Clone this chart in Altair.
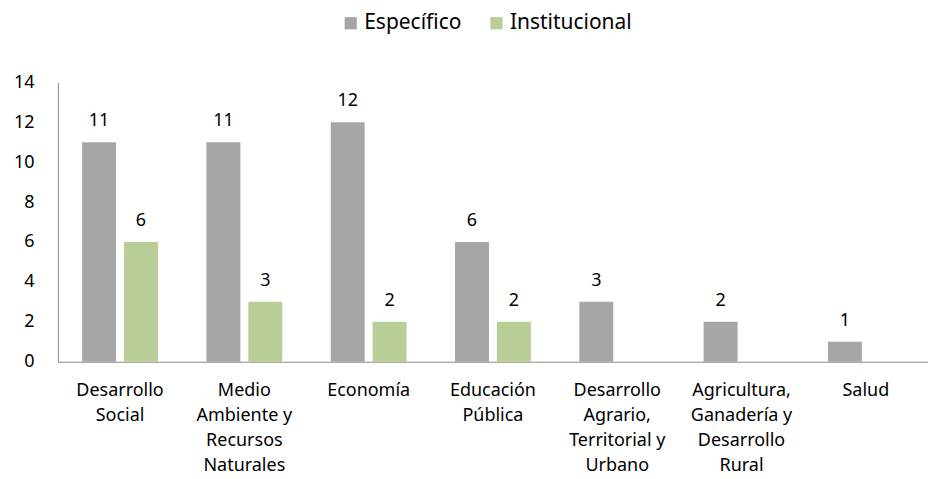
import altair as alt
import pandas as pd

categories = [
    "Desarrollo|Social",
    "Medio|Ambiente y|Recursos|Naturales",
    "Economía",
    "Educación|Pública",
    "Desarrollo|Agrario,|Territorial y|Urbano",
    "Agricultura,|Ganadería y|Desarrollo|Rural",
    "Salud",
]
series = ["Específico", "Institucional"]
especifico = [11, 11, 12, 6, 3, 2, 1]
institucional = [6, 3, 2, 2, None, None, None]
colors = ["#A6A6A6", "#B9CD96"]

rows = []
for c, e, i in zip(categories, especifico, institucional):
    if e is not None:
        rows.append({"cat": c, "serie": series[0], "valor": e})
    if i is not None:
        rows.append({"cat": c, "serie": series[1], "valor": i})
df = pd.DataFrame(rows)

FONT = "Noto Sans"

x = alt.X("cat:N", sort=categories, title=None,
          scale=alt.Scale(paddingInner=0.39, paddingOuter=0.195),
          axis=alt.Axis(labelAngle=0, labelExpr="split(datum.label, '|')",
                        labelLineHeight=25, labelFontSize=18, labelPadding=20,
                        ticks=False, domainColor="#8C8C8C", labelColor="#000000",
                        labelFont=FONT, labelBaseline="top"))
xo = alt.XOffset("serie:N", sort=series,
                 scale=alt.Scale(domain=series, paddingInner=0.19, paddingOuter=0))
y = alt.Y("valor:Q", title=None,
          scale=alt.Scale(domain=[0, 14]),
          axis=alt.Axis(values=[0, 2, 4, 6, 8, 10, 12, 14], grid=False,
                        tickSize=0, labelPadding=24, labelFontSize=18,
                        domainColor="#8C8C8C", labelColor="#000000", labelFont=FONT))

bars = alt.Chart(df).mark_bar().encode(
    x=x, xOffset=xo, y=y,
    color=alt.Color("serie:N", sort=series,
                    scale=alt.Scale(domain=series, range=colors),
                    legend=alt.Legend(title=None, orient="none", direction="horizontal",
                                      legendX=283, legendY=-70,
                                      symbolType="square", symbolSize=150,
                                      symbolStrokeWidth=0, labelFontSize=21,
                                      labelFont=FONT, labelColor="#000000",
                                      columnPadding=24, labelOffset=3)),
)

labels = alt.Chart(df).mark_text(baseline="bottom", dy=-12, fontSize=18,
                                 font=FONT, color="#000000").encode(
    x=x, xOffset=xo, y=y, text=alt.Text("valor:Q"),
)

chart = alt.layer(bars, labels).properties(
    width=872, height=280,
    padding={"left": 5, "right": 0, "top": 4, "bottom": 0},
).configure_view(stroke=None)

chart.save("out.html", embed_options={"renderer": "svg", "actions": False})
